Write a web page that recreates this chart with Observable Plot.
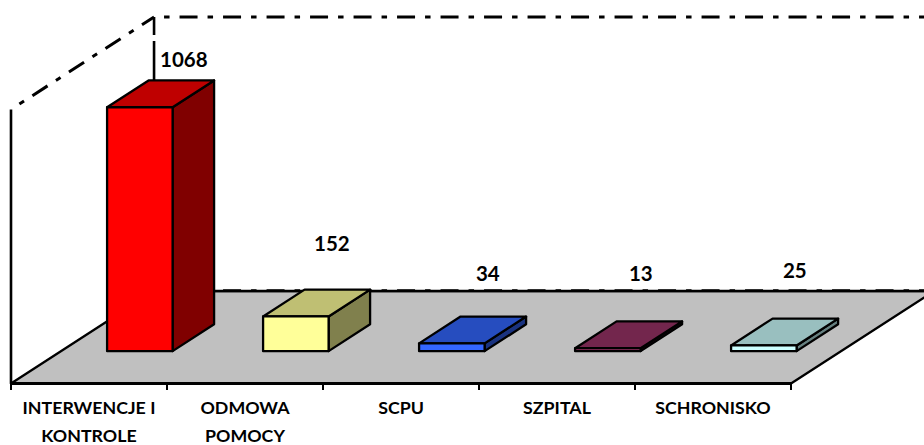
<!DOCTYPE html>
<html>
<head>
<meta charset="utf-8">
<script src="https://cdn.jsdelivr.net/npm/d3@7"></script>
<script src="https://cdn.jsdelivr.net/npm/@observablehq/plot@0.6"></script>
<style>html,body{margin:0;padding:0;background:#fff;overflow:hidden}</style>
</head>
<body>
<div id="chart"></div>
<script>
const categories = ["INTERWENCJE I\nKONTROLE", "ODMOWA\nPOMOCY", "SCPU", "SZPITAL", "SCHRONISKO"];
const values = [1068, 152, 34, 13, 25];
const barColors = ["#FF0000", "#FFFF99", "#3366FF", "#993366", "#CCFFFF"];
const wallMax = 1200;
const floorColor = "#C0C0C0";

// oblique projection: depth d (0 front .. 1 back) shifts a point right and up
const depthX = 0.917, depthY = 405;
const P = (c, v, d) => ({x: c + depthX * d, y: v + depthY * d});
const shade = (col, k) => { const c = d3.rgb(col); return d3.rgb(c.r * k, c.g * k, c.b * k).formatHex(); };

const poly = (pts, fill) => Plot.line(pts, {x: "x", y: "y", curve: "linear-closed", fill, stroke: "black", strokeWidth: 2.3, strokeLinejoin: "round"});
const seg = (pts, opts = {}) => Plot.line(pts, {x: "x", y: "y", stroke: "black", strokeWidth: 2.6, strokeLinecap: "butt", ...opts});

const dash = {strokeDasharray: "18,10,5.5,10", strokeDashoffset: 18, strokeWidth: 3};
const n = categories.length;
const backRight = 6.2;

// bars
const bL = 0.295, bR = 0.715, d0 = 0.35, d1 = 0.64;
const barMarks = values.flatMap((v, i) => {
  const l = i + bL, r = i + bR, c = barColors[i];
  return [
    poly([P(r, 0, d0), P(r, 0, d1), P(r, v, d1), P(r, v, d0)], shade(c, 0.5)),
    poly([P(l, v, d0), P(r, v, d0), P(r, v, d1), P(l, v, d1)], shade(c, 0.75)),
    poly([P(l, 0, d0), P(r, 0, d0), P(r, v, d0), P(l, v, d0)], c)
  ];
});

// hand-placed value labels, nudged from the front-top of each bar
const labelNudge = [[44, -47], [36, -72], [36, -69], [33, -74], [31, -74]];
const valueLabels = values.map((v, i) => Plot.text([P(i + 0.505, v, d0)], {
  x: "x", y: "y", text: () => String(v), dx: labelNudge[i][0], dy: labelNudge[i][1],
  fontFamily: "Lato", fontWeight: 700, fontSize: 20.5, fill: "black"
}));

const chart = Plot.plot({
  width: 924, height: 445,
  marginLeft: 10.5, marginRight: 133.5, marginTop: 0, marginBottom: 62,
  x: {domain: [0, n], axis: null},
  y: {domain: [0, 383 / (274 / wallMax)], axis: null},
  marks: [
    // floor
    poly([P(0, 0, 0), P(n, 0, 0), P(n, 0, 1), P(0, 0, 1)], floorColor),
    // walls
    seg([P(0, 0, 0), P(0, wallMax, 0)]),
    seg([P(0, wallMax, 0), P(0, wallMax, 1)], dash),
    seg([P(0, wallMax, 1), {x: backRight, y: wallMax + depthY}], dash),
    seg([P(0, wallMax, 1), P(0, 0, 1)], {strokeDasharray: "18,6,2000"}),
    // back floor edge with the wall's dash-dot peeking above it
    seg([P(0, 0, 1), {x: backRight, y: depthY}]),
    seg([P(0, 4, 1), {x: backRight, y: depthY + 4}], {...dash, strokeWidth: 1.6}),
    // front axis
    seg([P(0, 0, 0), P(n, 0, 0)], {strokeWidth: 2.8}),
    Plot.axisX({ticks: d3.range(n + 1), tickFormat: () => "", tickSize: 7, strokeWidth: 2, stroke: "black", label: null}),
    Plot.text(categories, {
      x: (d, i) => i + 0.5, y: () => 0, text: d => d, dy: 11,
      lineAnchor: "top", lineHeight: 1.57,
      fontFamily: "Lato", fontWeight: 700, fontSize: 17.8, fill: "black"
    }),
    ...barMarks,
    ...valueLabels
  ]
});
document.getElementById("chart").append(chart);
</script>
</body>
</html>
